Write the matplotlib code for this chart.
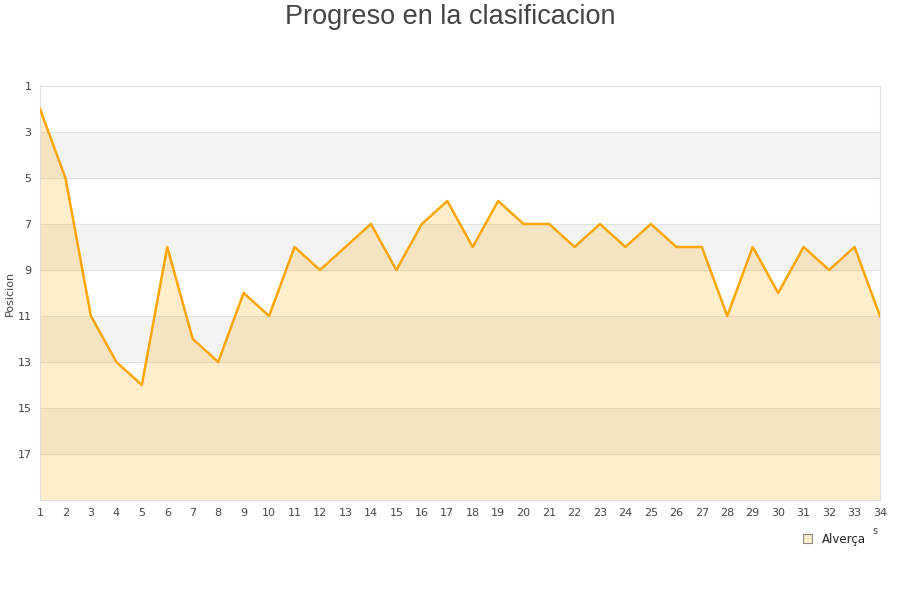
import matplotlib
matplotlib.use('Agg')
import matplotlib.pyplot as plt
from matplotlib.patches import Patch

jornadas = list(range(1, 35))
posicion = [2, 5, 11, 13, 14, 8, 12, 13, 10, 11, 8, 9, 8, 7, 9, 7, 6, 8, 6, 7,
            7, 8, 7, 8, 7, 8, 8, 11, 8, 10, 8, 9, 8, 11]
yticks = [1, 3, 5, 7, 9, 11, 13, 15, 17]
equipo = 'Alverça'

fig = plt.figure(figsize=(9, 6), dpi=100)
ax = fig.add_axes([40 / 900, 100 / 600, 840 / 900, 414 / 600])

# bandas alternas
for y0 in [3, 7, 11, 15]:
    ax.axhspan(y0, y0 + 2, color='#f3f3f3', zorder=0, lw=0)
for y in yticks[1:]:
    ax.axhline(y, color='#e2e2e2', lw=0.8, zorder=1)

ax.fill_between(jornadas, posicion, 19, color='#ffa500', alpha=0.2, lw=0, zorder=2)
ax.plot(jornadas, posicion, color='#ffa500', lw=1.8, zorder=3)

ax.set_xlim(1, 34)
ax.set_ylim(19, 1)
ax.set_xticks(jornadas)
ax.set_yticks(yticks)
ax.tick_params(length=0, labelsize=8, colors='#444444', pad=6)
for s in ax.spines.values():
    s.set_color('#dddddd')
    s.set_linewidth(0.8)
ax.set_ylabel('Posicion', fontsize=8, color='#444444', labelpad=2)

fig.text(0.5, 1 - 17 / 600, 'Progreso en la clasificacion', ha='center', va='center',
         fontsize=19.5, color='#444444', family='Liberation Sans')
fig.text(875 / 900, 1 - 531 / 600, 's', ha='center', va='center', fontsize=7, color='#444444')

leg = fig.legend(handles=[Patch(facecolor='#ffedcc', edgecolor='#888888', lw=0.8, label=equipo)],
                 loc='center', bbox_to_anchor=(834 / 900, 1 - 539 / 600), frameon=False,
                 fontsize=8.5, handlelength=0.8, handleheight=0.8, handletextpad=0.8)
for t in leg.get_texts():
    t.set_color('#222222')

fig.savefig('out.png')
